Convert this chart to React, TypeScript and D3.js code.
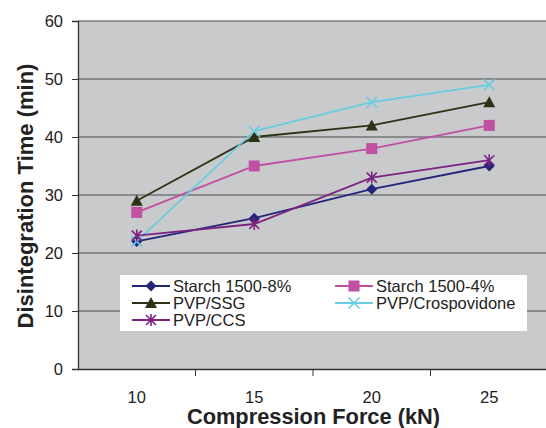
import React, { useEffect, useRef } from "react";
import * as d3 from "d3";

const forces = ["10", "15", "20", "25"];
const yTicks = [0, 10, 20, 30, 40, 50, 60];

const seriesNames = [
  "Starch 1500-8%",
  "Starch 1500-4%",
  "PVP/SSG",
  "PVP/Crospovidone",
  "PVP/CCS",
];
const starch8 = [22, 26, 31, 35];
const starch4 = [27, 35, 38, 42];
const pvpSsg = [29, 40, 42, 46];
const pvpCrospovidone = [22, 41, 46, 49];
const pvpCcs = [23, 25, 33, 36];

const seriesColors = ["#25267a", "#c050a2", "#2f3116", "#68cde0", "#7c2382"];
const seriesMarkers = ["diamond", "square", "triangle", "cross", "asterisk"];

const App: React.FC = () => {
  const svgRef = useRef<SVGSVGElement | null>(null);

  useEffect(() => {
    if (!svgRef.current) return;
    const svg = d3.select(svgRef.current);
    svg.selectAll("*").remove();

    const width = 546;
    const height = 428;
    const margin = { top: 21, right: -2, bottom: 59, left: 78 };
    const innerWidth = width - margin.left - margin.right;
    const innerHeight = height - margin.top - margin.bottom;
    const font = "'Liberation Sans', Arial, sans-serif";

    svg.attr("width", width).attr("height", height);
    svg.append("rect").attr("width", width).attr("height", height).attr("fill", "#fff");

    const g = svg.append("g").attr("transform", `translate(${margin.left},${margin.top})`);

    const x = d3.scaleBand().domain(forces).range([0, innerWidth]);
    const y = d3.scaleLinear().domain([0, 60]).range([innerHeight, 0]);

    g.append("rect")
      .attr("width", innerWidth)
      .attr("height", innerHeight)
      .attr("fill", "#c9cacc");

    // gridlines
    g.selectAll("line.grid")
      .data(yTicks.filter((d) => d > 0))
      .enter()
      .append("line")
      .attr("x1", 0)
      .attr("x2", innerWidth)
      .attr("y1", (d) => y(d))
      .attr("y2", (d) => y(d))
      .attr("stroke", "#4a4a4a")
      .attr("stroke-width", 1);

    // y axis
    const yAxis = d3.axisLeft(y).tickValues(yTicks).tickSize(6).tickPadding(9);
    const yg = g.append("g").call(yAxis);
    yg.select(".domain").attr("stroke", "#333").attr("stroke-width", 1.3);
    yg.selectAll(".tick line").attr("stroke", "#333");
    yg.selectAll("text")
      .attr("font-family", font)
      .attr("font-size", 16.5)
      .attr("fill", "#222");

    // x axis
    const xAxis = d3.axisBottom(x).tickSize(0).tickPadding(22);
    const xg = g.append("g").attr("transform", `translate(0,${innerHeight})`).call(xAxis);
    xg.select(".domain").attr("stroke", "#333").attr("stroke-width", 1.3);
    xg.selectAll("text")
      .attr("font-family", font)
      .attr("font-size", 16.5)
      .attr("fill", "#222");
    const step = x.step();
    xg.selectAll("line.sep")
      .data(forces.slice(0, -1))
      .enter()
      .append("line")
      .attr("x1", (d) => (x(d) as number) + step)
      .attr("x2", (d) => (x(d) as number) + step)
      .attr("y1", 0)
      .attr("y2", 7)
      .attr("stroke", "#333");

    // axis titles
    svg.append("text")
      .attr("x", 313.5)
      .attr("y", 424)
      .attr("text-anchor", "middle")
      .attr("font-family", font)
      .attr("font-weight", "bold")
      .attr("font-size", 21.8)
      .attr("fill", "#222")
      .text("Compression Force (kN)");
    svg.append("text")
      .attr("transform", "rotate(-90)")
      .attr("x", -196)
      .attr("y", 33)
      .attr("text-anchor", "middle")
      .attr("font-family", font)
      .attr("font-weight", "bold")
      .attr("font-size", 22)
      .attr("fill", "#222")
      .text("Disintegration Time (min)");

    const allSeries = [starch8, starch4, pvpSsg, pvpCrospovidone, pvpCcs];
    const cx = (i: number) => (x(forces[i]) as number) + x.bandwidth() / 2;

    const drawMarker = (
      sel: d3.Selection<SVGGElement, unknown, null, undefined>,
      type: string,
      color: string
    ) => {
      if (type === "diamond") {
        sel.append("path").attr("d", "M0,-5.5L5.5,0L0,5.5L-5.5,0Z").attr("fill", color);
      } else if (type === "square") {
        sel.append("rect").attr("x", -5.5).attr("y", -5.5).attr("width", 11).attr("height", 11).attr("fill", color);
      } else if (type === "triangle") {
        sel.append("path").attr("d", "M0,-6L6,5L-6,5Z").attr("fill", color);
      } else if (type === "cross") {
        sel.append("path").attr("d", "M-5.5,-5.5L5.5,5.5M-5.5,5.5L5.5,-5.5").attr("stroke", color).attr("stroke-width", 1.6);
      } else {
        sel.append("path")
          .attr("d", "M-5,-5L5,5M-5,5L5,-5M0,-6L0,6")
          .attr("stroke", color)
          .attr("stroke-width", 1.6);
      }
    };

    const line = d3
      .line<number>()
      .x((_, i) => cx(i))
      .y((d) => y(d));

    allSeries.forEach((vals, si) => {
      g.append("path")
        .datum(vals)
        .attr("fill", "none")
        .attr("stroke", seriesColors[si])
        .attr("stroke-width", 1.8)
        .attr("d", line);
    });
    allSeries.forEach((vals, si) => {
      vals.forEach((v, i) => {
        const m = g.append("g").attr("transform", `translate(${cx(i)},${y(v)})`);
        drawMarker(m, seriesMarkers[si], seriesColors[si]);
      });
    });

    // legend
    const legend = svg.append("g").attr("transform", "translate(120,275)");
    legend.append("rect").attr("width", 407).attr("height", 56).attr("fill", "#fff");
    seriesNames.forEach((name, i) => {
      const col = i % 2;
      const row = Math.floor(i / 2);
      const lx = 12 + col * 203;
      const ly = 11 + row * 17;
      const item = legend.append("g").attr("transform", `translate(${lx},${ly})`);
      item.append("line")
        .attr("x1", 0)
        .attr("x2", 38)
        .attr("stroke", seriesColors[i])
        .attr("stroke-width", 1.8);
      const m = item.append("g").attr("transform", "translate(19,0)");
      drawMarker(m, seriesMarkers[i], seriesColors[i]);
      item.append("text")
        .attr("x", 41)
        .attr("y", 6)
        .attr("font-family", font)
        .attr("font-size", 16.5)
        .attr("fill", "#222")
        .text(name);
    });
  }, []);

  return <svg ref={svgRef} style={{ position: "absolute", left: 0, top: 0 }}></svg>;
};

export default App;
